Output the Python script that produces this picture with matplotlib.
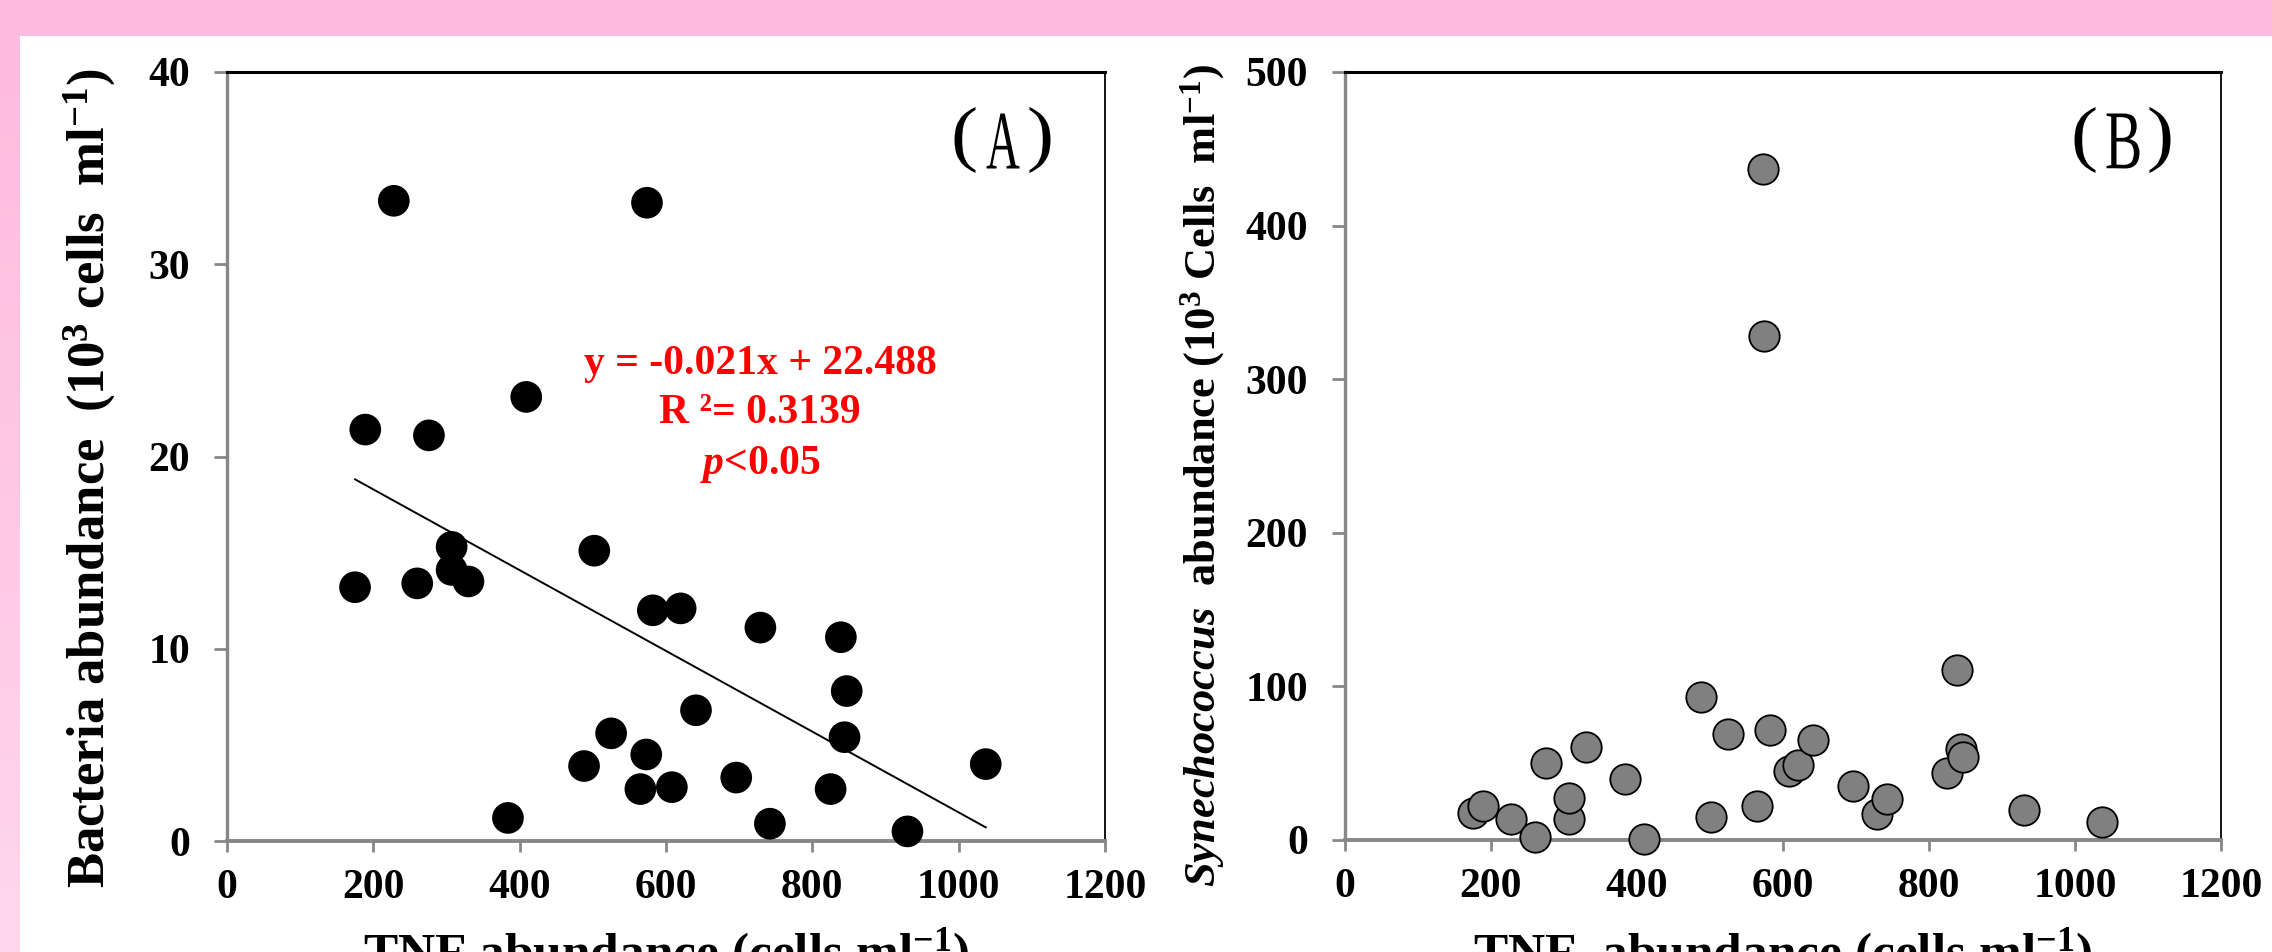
"""
TNF abundance vs bacteria / Synechococcus abundance, two scatter panels.
"""

import numpy as np
import matplotlib
matplotlib.use("Agg")
import matplotlib.pyplot as plt
from matplotlib.patches import Rectangle, PathPatch
from matplotlib.textpath import TextPath
from matplotlib.font_manager import FontProperties
from matplotlib.transforms import Affine2D

# ---------------------------------------------------------------------------
# DATA
# ---------------------------------------------------------------------------

TNF = [175, 189, 228, 260, 276, 307, 307, 330, 384, 409, 488, 502, 525, 565,
       573, 574, 582, 608, 620, 641, 696, 729, 742, 825, 839, 844, 847, 930, 1037]

BACTERIA = [13.2, 21.4, 33.3, 13.4, 21.1, 15.3, 14.1, 13.5, 1.2, 23.1, 3.9,
            15.1, 5.6, 2.7, 4.5, 33.2, 12.0, 2.8, 12.1, 6.8, 3.3, 11.1, 0.9,
            2.7, 10.6, 5.4, 7.8, 0.5, 4.0]

SYNECHOCOCCUS = [17.3, 22.1, 13.9, 1.9, 50.2, 13.4, 27.5, 60.6, 40.0, 0.9,
                 92.9, 15.2, 69.0, 22.1, 436.6, 327.9, 71.4, 44.8, 48.9, 64.9,
                 35.3, 17.1, 26.8, 43.7, 110.8, 59.5, 54.1, 19.5, 11.7]

# linear fit printed on panel A
FIT_SLOPE = -0.021
FIT_INTERCEPT = 22.488
FIT_LINES = ["y = -0.021x + 22.488", "R \u00b2= 0.3139", r"$\mathit{p}$<0.05"]

X_TICKS = [0, 200, 400, 600, 800, 1000, 1200]
Y_TICKS_A = [0, 10, 20, 30, 40]
Y_TICKS_B = [0, 100, 200, 300, 400, 500]

# ---------------------------------------------------------------------------
# STYLE
# ---------------------------------------------------------------------------

W, H = 2272, 952
PINK_TOP = "#FFBADF"
PINK_LOW = "#FFD6EE"
AXIS_GREY = "#878787"

plt.rcParams["font.family"] = ["Liberation Serif", "DejaVu Serif"]
plt.rcParams["font.weight"] = "bold"
plt.rcParams["mathtext.fontset"] = "custom"
plt.rcParams["mathtext.rm"] = "Liberation Serif:bold"
plt.rcParams["mathtext.bf"] = "Liberation Serif:bold"
plt.rcParams["mathtext.it"] = "Liberation Serif:italic:bold"


def px_box(left, top, right, bottom):
    """Pixel box (from top-left) -> figure fraction rect."""
    return [left / W, (H - bottom) / H, (right - left) / W, (bottom - top) / H]


def squeezed_glyph(fig, s, cx, cy, width, height):
    """Draw a single glyph stretched into a width x height pixel box
    centred on (cx, cy) (pixels from top-left) - mimics the narrow panel font."""
    tp = TextPath((0, 0), s, size=100,
                  prop=FontProperties(family="Liberation Serif", weight="normal"))
    bb = tp.get_extents()
    tr = (Affine2D()
          .translate(-(bb.x0 + bb.x1) / 2, -(bb.y0 + bb.y1) / 2)
          .scale(width / bb.width, height / bb.height)
          .translate(cx, H - cy))
    fig.add_artist(PathPatch(tp, transform=tr, facecolor="black",
                             edgecolor="none", zorder=10))


def panel_tag(fig, letter, cx, cy):
    squeezed_glyph(fig, "(", cx - 38, cy, 21, 66)
    squeezed_glyph(fig, letter, cx, cy + 1, 33, 55)
    squeezed_glyph(fig, ")", cx + 37, cy, 21, 66)


def style_axes(ax, yticks, ylim):
    ax.set_xlim(0, 1200)
    ax.set_ylim(*ylim)
    ax.set_xticks(X_TICKS)
    ax.set_yticks(yticks)
    ax.spines["left"].set_color(AXIS_GREY)
    ax.spines["left"].set_linewidth(2.4)
    ax.spines["bottom"].set_color(AXIS_GREY)
    ax.spines["bottom"].set_linewidth(2.8)
    ax.spines["top"].set_color("black")
    ax.spines["top"].set_linewidth(2.2)
    ax.spines["right"].set_color("black")
    ax.spines["right"].set_linewidth(1.3)
    ax.tick_params(axis="both", direction="out", color=AXIS_GREY, width=2,
                   labelsize=30)
    ax.tick_params(axis="x", length=8, pad=12)
    ax.tick_params(axis="y", length=9.5, pad=17)
    for lab in ax.get_xticklabels() + ax.get_yticklabels():
        lab.set_fontweight("bold")


# ---------------------------------------------------------------------------
# FIGURE
# ---------------------------------------------------------------------------

fig = plt.figure(figsize=(W / 100, H / 100), dpi=100)
fig.patch.set_facecolor("white")

# pink frame: band across the top, gradient strip down the left
fig.patches.append(Rectangle((0, 1 - 36 / H), 1, 36 / H, transform=fig.transFigure,
                             facecolor=PINK_TOP, edgecolor="none", zorder=-5))
strip = fig.add_axes(px_box(0, 36, 20, H), zorder=-5)
grad = np.linspace(0, 1, 256).reshape(-1, 1)
strip.imshow(grad, aspect="auto",
             cmap=matplotlib.colors.LinearSegmentedColormap.from_list(
                 "pk", [PINK_TOP, PINK_LOW]))
strip.set_axis_off()

# --- panel A ---------------------------------------------------------------
axA = fig.add_axes(px_box(227, 72, 1105, 841))
style_axes(axA, Y_TICKS_A, (0, 40))
axA.scatter(TNF, BACTERIA, s=520, color="black", edgecolor="none",
            clip_on=False, zorder=5)
fit_x = np.array([min(TNF), max(TNF)])
axA.plot(fit_x, FIT_SLOPE * fit_x + FIT_INTERCEPT, color="black", lw=1.4, zorder=4)

for txt, yf in zip(FIT_LINES, [0.620, 0.557, 0.490]):
    axA.text(0.607, yf, txt, transform=axA.transAxes, color="#FF0000",
             fontsize=30, fontweight="bold", ha="center", va="center")

panel_tag(fig, "A", 1003, 140)

fig.text(90 / W, 1 - 478 / H,
         r"Bacteria abundance  (10$^{\mathrm{3}}$ cells  ml$^{\mathrm{-1}}$)",
         rotation=90, fontsize=38, fontweight="bold", ha="center", va="center")
fig.text(666 / W, 1 - 968 / H, r"TNF abundance (cells ml$^{\mathrm{-1}}$)",
         fontsize=37, fontweight="bold", ha="center", va="baseline")

# --- panel B ---------------------------------------------------------------
axB = fig.add_axes(px_box(1345, 72, 2221, 840))
style_axes(axB, Y_TICKS_B, (0, 500))
axB.scatter(TNF, SYNECHOCOCCUS, s=480, color="#808080", edgecolor="black",
            linewidth=1.3, clip_on=False, zorder=5)

panel_tag(fig, "B", 2123, 140)

fig.text(1203 / W, 1 - 476 / H,
         r"$\mathit{Synechococcus}$  abundance (10$^{\mathrm{3}}$ Cells  ml$^{\mathrm{-1}}$)",
         rotation=90, fontsize=32, fontweight="bold", ha="center", va="center")
fig.text(1783 / W, 1 - 968 / H, r"TNF  abundance (cells ml$^{\mathrm{-1}}$)",
         fontsize=37, fontweight="bold", ha="center", va="baseline")

fig.savefig("out.png", dpi=100, facecolor=fig.get_facecolor())
